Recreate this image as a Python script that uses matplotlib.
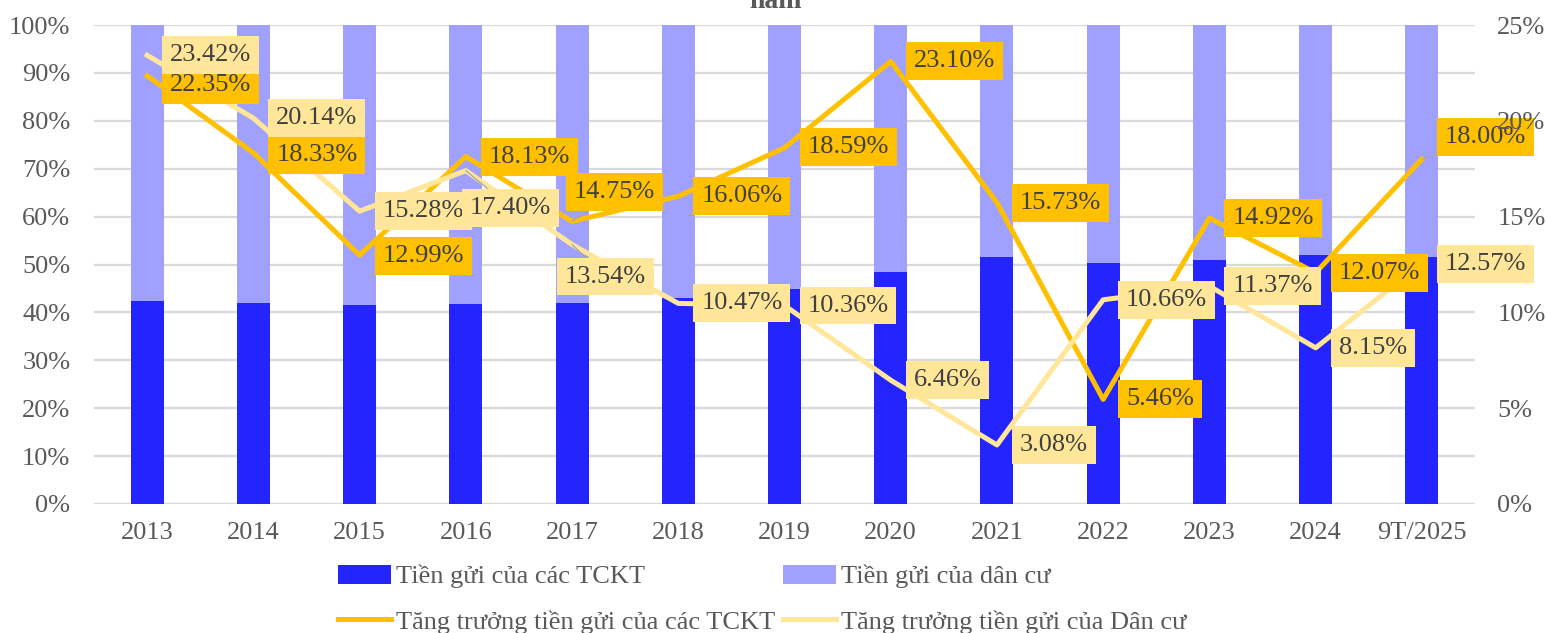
import numpy as np
import matplotlib
matplotlib.use('Agg')
import matplotlib.pyplot as plt

plt.rcParams['font.family'] = ['Liberation Serif', 'DejaVu Serif']

years = ['2013', '2014', '2015', '2016', '2017', '2018', '2019',
         '2020', '2021', '2022', '2023', '2024', '9T/2025']
share_tckt = [42.4, 42.0, 41.5, 41.7, 42.0, 43.1, 44.9, 48.5, 51.5, 50.3, 51.0, 52.0, 51.6]
share_dancu = [100 - v for v in share_tckt]
growth_tckt = [22.35, 18.33, 12.99, 18.13, 14.75, 16.06, 18.59, 23.10, 15.73, 5.46, 14.92, 12.07, 18.00]
growth_dancu = [23.42, 20.14, 15.28, 17.40, 13.54, 10.47, 10.36, 6.46, 3.08, 10.66, 11.37, 8.15, 12.57]

# label box offsets in pixels: (box left edge - point x, box centre - point y, up is +)
off_tckt = [(15, -9), (15, -2), (15, -1), (15, 0), (-6, 29), (15, 0), (15, 1), (15, 0),
            (15, 0), (15, 0), (15, 0), (15, 0), (15, 22)]
off_dancu = [(15, 0), (15, 0), (15, 0), (-4, -37), (-15, -32), (15, 0), (15, 0), (15, 0),
             (15, 0), (15, 0), (15, 0), (15, 0), (15, -1)]

c_dark = '#2424FF'
c_light = '#A0A0FF'
c_gold = '#FFC000'
c_pale = '#FFE699'
c_txt = '#404040'
c_tick = '#595959'

fig = plt.figure(figsize=(15.47, 6.33), dpi=100)
ax = fig.add_axes([94/1547, 1-504/633, 1381/1547, 479/633])
x = np.arange(len(years))

b1 = ax.bar(x, share_tckt, width=0.31, color=c_dark, zorder=2, label='Tiền gửi của các TCKT')
b2 = ax.bar(x, share_dancu, width=0.31, bottom=share_tckt, color=c_light, zorder=2,
            label='Tiền gửi của dân cư')
ax.set_ylim(0, 100)
ax.set_xlim(-0.5, len(years) - 0.5)
ax.set_yticks(np.arange(0, 101, 10))
ax.set_yticklabels([str(v) + '%' for v in range(0, 101, 10)])
ax.set_xticks(x)
ax.set_xticklabels(years)
ax.grid(axis='y', color='#D9D9D9', linewidth=1.6, zorder=0)
ax.set_axisbelow(True)
ax.tick_params(axis='y', length=0, pad=17, labelsize=19, labelcolor=c_tick)
ax.tick_params(axis='x', length=0, pad=13, labelsize=19, labelcolor=c_tick)
for s in ax.spines.values():
    s.set_visible(False)

ax2 = ax.twinx()
l1, = ax2.plot(x, growth_tckt, color=c_gold, linewidth=3.6, zorder=1.2,
               label='Tăng trưởng tiền gửi của các TCKT')
l2, = ax2.plot(x, growth_dancu, color=c_pale, linewidth=3.6, zorder=1.2,
               label='Tăng trưởng tiền gửi của Dân cư')
ax2.set_ylim(0, 25)
ax2.set_yticks(np.arange(0, 26, 5))
ax2.set_yticklabels([str(v) + '%' for v in range(0, 26, 5)])
ax2.tick_params(axis='y', length=0, pad=16, labelsize=19, labelcolor=c_tick)
ax2.set_axisbelow(False)
for s in ax2.spines.values():
    s.set_visible(False)

fs = 19
pad = 0.3
pad_px = pad * fs * 100 / 72.0

def put_labels(vals, offs, face, z):
    for i, v in enumerate(vals):
        dx, dy = offs[i]
        lead = abs(dy) > 20
        ax2.annotate('%.2f%%' % v, (x[i], v), xytext=(dx + pad_px, dy), textcoords='offset pixels',
                     ha='left', va='center', fontsize=fs, color=c_txt, zorder=z,
                     bbox=dict(boxstyle='square,pad=%.2f' % pad, fc=face, ec='none'),
                     arrowprops=dict(arrowstyle='-', color='#A6A6A6', lw=0.9,
                                     shrinkA=0, shrinkB=0) if lead else None)

put_labels(growth_tckt, off_tckt, c_gold, 1.8)
put_labels(growth_dancu, off_dancu, c_pale, 2.0)

fig.legend([b1, l1, b2, l2],
           ['Tiền gửi của các TCKT', 'Tăng trưởng tiền gửi của các TCKT',
            'Tiền gửi của dân cư', 'Tăng trưởng tiền gửi của Dân cư'],
           loc='upper left', bbox_to_anchor=(338/1547, 1-565/633), ncol=2,
           frameon=False, fontsize=19, handlelength=2.0, handletextpad=0.2,
           columnspacing=0.3, labelspacing=0.82, borderpad=0, borderaxespad=0,
           labelcolor=c_tick)

fig.text(775/1547, 1-8/633, 'năm', ha='center', va='baseline', fontsize=20,
         fontweight='bold', color=c_tick)

plt.savefig('out.png', dpi=100)
